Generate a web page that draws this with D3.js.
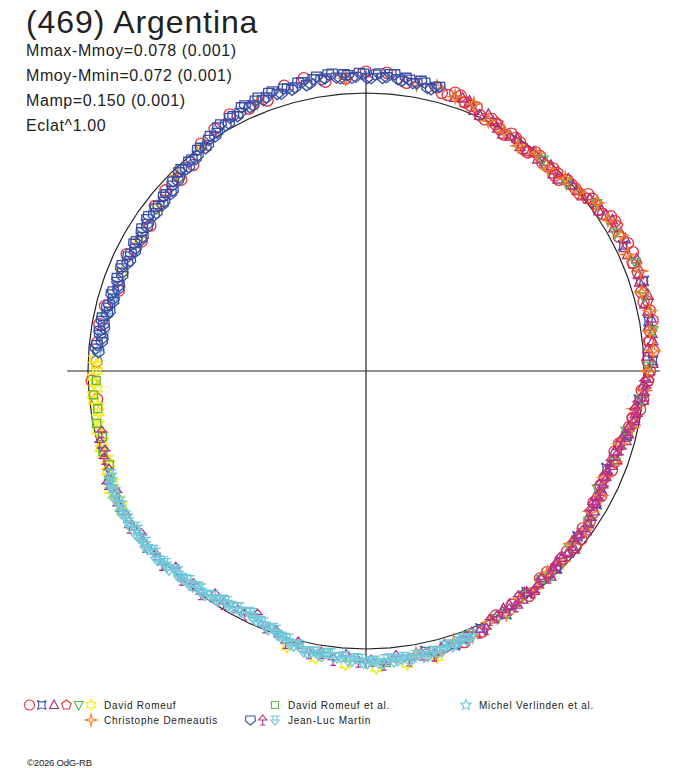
<!DOCTYPE html>
<html>
<head>
<meta charset="utf-8">
<script src="https://cdn.jsdelivr.net/npm/d3@7"></script>
<style>
  body { margin: 0; background: #fff; }
  svg { display: block; font-family: "Liberation Sans", Arial, sans-serif; }
</style>
</head>
<body>
<svg id="chart"></svg>
<script>
// ---- data: [rotation angle in degrees, magnitude relative to mean] ----
const title = "(469) Argentina";
const statLines = ["Mmax-Mmoy=0.078 (0.001)", "Mmoy-Mmin=0.072 (0.001)", "Mamp=0.150 (0.001)", "Eclat^1.00"];
const eclat = 1.00;

const romeuf1 = [[280,0.029],[288,0.073],[296,0.047],[304,0.072],[312,0.032],[320,0.036],[328,-0.029],[336,-0.036],
  [344,-0.071],[352,-0.054],[0,-0.080],[8,-0.050],[14,-0.055],[16.5,-0.038],[19,-0.050],[21.5,-0.028],[24,-0.008],
  [26.5,-0.014],[29,0.006],[31.5,-0.001],[34,0.009],[36.5,0.024],[39,0.006],[41.5,0.018],[44,0.025],[46.5,0.002],
  [49,0.001],[51.5,-0.023],[54,-0.025],[56.5,-0.024],[59,-0.048],[62,-0.032],[66,-0.054],[70,-0.043],[74,-0.032],
  [78,-0.047],[82,-0.034],[86,-0.039],[90,-0.023],[94,0.006],[98,0.005],[102,0.035],[106,0.059],[110,0.052],
  [114,0.067],[118,0.047],[122,0.042],[126,0.040],[130,0.017],[134,0.027],[138,0.029],
  [264,0.030],[268,0.014],[272,0.033],[276,0.030]];
const romeuf1b = [[284,0.036],[300,0.076],[308,0.040],[316,0.048],[324,-0.011],[332,-0.048],[340,-0.038],[348,-0.080],
  [356,-0.058],[4,-0.079],[15.25,-0.039],[17.75,-0.054],[20.25,-0.032],[22.75,-0.031],[25.25,-0.001],[27.75,-0.003],
  [30.25,0.017],[32.75,0.004],[35.25,0.023],[37.75,0.005],[40.25,0.020],[42.75,0.009],[45.25,0.025],[47.75,0.002],
  [50.25,0.002],[52.75,-0.025],[55.25,-0.018],[57.75,-0.045],[64,-0.051],[68,-0.040],[72,-0.047],[76,-0.031],
  [80,-0.050],[84,-0.028],[88,-0.015],[92,-0.016],[96,-0.002],[100,0.029],[104,0.038],[108,0.067],[112,0.051],
  [116,0.069],[120,0.061],[124,0.033],[128,0.019],[132,0.031],[136,0.019],[140,0.028],[144,0.001],[148,0.010],
  [152,0.004],[156,-0.028],[160,-0.040],[164,-0.034],[168,-0.046]];
const romeuf2 = [[64,-0.032],[72,-0.053],[80,-0.034],[88,-0.035],[96,0.014],[104,0.037],[112,0.075],[120,0.047],
  [128,0.038],[136,0.013],[144,0.017],[150,-0.011],[156,-0.015],[162,-0.039],[168,-0.032]];
const romeuf3 = [[18,-0.037],[21,-0.042],[24,-0.007],[27,-0.007],[30,0.018],[33,0.002],[36,0.016],[39,0.021],
  [42,0.006],[45,0.026],[48,0.000],[51,-0.001],[54,-0.032],[57,-0.031],[60,-0.031],[63,-0.050],[66,-0.032],
  [69,-0.049],[72,-0.037],[75,-0.054],[78,-0.039],[81,-0.031],[84,-0.040],[87,-0.013],[90,-0.022],[93,0.002],
  [96,-0.004],[99,0.021],[102,0.037],[105,0.035],[108,0.068],[111,0.058],[114,0.074],[117,0.052],[120,0.054],
  [123,0.048],[126,0.023],[129,0.040],[132,0.023],[135,0.031],[138,0.007],[141,0.016],[144,0.018],[147,0.000],[150,0.013]];
const romeuf3b = [[19.5,-0.044],[22.5,-0.016],[25.5,-0.024],[28.5,0.007],[31.5,0.010],[34.5,0.023],[37.5,0.008],
  [40.5,0.010],[43.5,0.025],[46.5,-0.003],[49.5,0.001],[52.5,-0.017],[55.5,-0.018],[58.5,-0.042],[61.5,-0.045],
  [64.5,-0.033],[67.5,-0.057],[70.5,-0.042],[73.5,-0.046],[76.5,-0.033],[79.5,-0.046],[82.5,-0.040],[85.5,-0.018],
  [88.5,-0.034],[91.5,-0.009],[94.5,-0.001],[97.5,0.023],[100.5,0.018],[103.5,0.032],[106.5,0.060],[109.5,0.047],
  [112.5,0.068],[115.5,0.063],[118.5,0.067],[121.5,0.040],[124.5,0.032],[127.5,0.040],[130.5,0.015],[133.5,0.029],
  [136.5,0.019],[139.5,0.026],[142.5,0.006],[145.5,0.005],[148.5,0.015]];
const romeuf4 = [[20,-0.031],[28,-0.010],[36,0.024],[44,0.008],[52,-0.009],[60,-0.047],[68,-0.035],[76,-0.046],
  [84,-0.023],[92,-0.018],[100,0.030]];
const romeuf5 = [[40,0.011],[47,0.015],[54,-0.027],[61,-0.027],[68,-0.047],[75,-0.037],[82,-0.045],[89,-0.017],
  [96,0.002],[103,0.044],[110,0.053],[117,0.074],[124,0.037],[131,0.033],[138,0.008],[145,0.016],[152,-0.009],[159,-0.021]];
const romeuf6 = [[240,-0.014],[242.5,-0.002],[245,-0.017],[247.5,0.003],[250,0.020],[252.5,0.008],[255,0.021],
  [257.5,0.010],[260,0.020],[262.5,0.031],[265,0.015],[267.5,0.026],[270,0.034],[272.5,0.024],
  [166,-0.064],[172,-0.067],[178,-0.072],[184,-0.061],[190,-0.051],[196,-0.034],
  [292,0.060],[300,0.062],[308,0.055],[316,0.034],[324,0.003]];
const romeuf6b = [[241.25,-0.002],[243.75,-0.014],[246.25,0.006],[248.75,0.001],[251.25,0.018],[253.75,0.006],
  [256.25,0.028],[258.75,0.019],[261.25,0.029],[263.75,0.016],[266.25,0.033],[268.75,0.019],[271.25,0.033]];
const romeufEtAl = [[244,-0.002],[247,-0.007],[250,0.019],[253,0.011],[256,0.025],[259,0.014],[262,0.028],[265,0.018],
  [268,0.032],[140,0.023],[150,-0.007],[160,-0.028],[176,-0.055],[188,-0.025]];
const verlinden = [[274,0.034],[278,0.050],[282,0.044],[286,0.062]];
const demeautis = [[10,-0.051],[14,-0.057],[18,-0.040],[22,-0.039],[26,-0.003],[30,0.008],[34,0.025],[38,0.008],
  [42,0.024],[46,0.004],[50,-0.002],[54,-0.032],[58,-0.028],[62,-0.042],[66,-0.032],[70,-0.054],[74,-0.034],
  [78,-0.046],[82,-0.033],[86,-0.038],[90,-0.013],[94,-0.004],[98,0.027],[102,0.024],[106,0.057],[110,0.053],
  [114,0.068],[118,0.048],[122,0.052],[126,0.030],[130,0.039],[134,0.016],[138,0.027],[142,0.009],[146,0.013],
  [150,-0.010],[154,-0.007],[158,-0.029],[162,-0.024],[166,-0.050],[170,-0.037],[316,0.026],[338,-0.045],[356,-0.058]];
const martinBlue = [[274,0.039],[275.5,0.031],[277,0.050],[278.5,0.034],[280,0.047],[281.5,0.036],[283,0.059],
  [284.5,0.051],[286,0.062],[287.5,0.052],[289,0.068],[290.5,0.050],[292,0.062],[293.5,0.049],[295,0.071],
  [296.5,0.062],[298,0.069],[299.5,0.057],[301,0.071],[302.5,0.050],[304,0.060],[305.5,0.045],[307,0.063],
  [308.5,0.052],[310,0.059],[311.5,0.045],[313,0.055],[314.5,0.030],[316,0.036],[317.5,0.017],[319,0.032],
  [320.5,0.016],[322,0.018],[323.5,0.001],[325,0.010],[326.5,-0.015],[328,-0.011],[329.5,-0.032],[331,-0.019],
  [332.5,-0.036],[334,-0.035],[335.5,-0.053],[337,-0.040],[338.5,-0.060],[340,-0.050],[341.5,-0.064],[343,-0.045],
  [344.5,-0.058],[346,-0.054],[347.5,-0.068],[349,-0.056],[350.5,-0.077],[352,-0.066],[353.5,-0.080],[355,-0.060],
  [356.5,-0.070],[358,-0.062],[359.5,-0.073],[1,-0.057],[2.5,-0.075],[4,-0.063],[5.5,-0.076],[7,-0.054],
  [8.5,-0.063],[10,-0.054],[11.5,-0.062],[13,-0.043],[14.5,-0.059]];
const martinBlue2 = [[274.75,0.027],[276.25,0.049],[277.75,0.038],[279.25,0.050],[280.75,0.036],[282.25,0.053],
  [283.75,0.046],[285.25,0.064],[286.75,0.049],[288.25,0.069],[289.75,0.056],[291.25,0.066],[292.75,0.050],
  [294.25,0.066],[295.75,0.057],[297.25,0.073],[298.75,0.054],[300.25,0.072],[301.75,0.057],[303.25,0.065],
  [304.75,0.046],[306.25,0.060],[307.75,0.049],[309.25,0.062],[310.75,0.044],[312.25,0.058],[313.75,0.039],
  [315.25,0.042],[316.75,0.020],[318.25,0.030],[319.75,0.015],[321.25,0.024],[322.75,0.001],[324.25,0.014],
  [325.75,-0.006],[327.25,-0.003],[328.75,-0.027],[330.25,-0.019],[331.75,-0.036],[333.25,-0.028],[334.75,-0.052],
  [336.25,-0.039],[337.75,-0.054],[339.25,-0.045],[340.75,-0.063],[342.25,-0.049],[343.75,-0.061],[345.25,-0.049],
  [346.75,-0.069],[348.25,-0.053],[349.75,-0.070],[351.25,-0.062],[352.75,-0.079],[354.25,-0.064],[355.75,-0.074],
  [357.25,-0.059],[358.75,-0.076],[0.25,-0.057],[1.75,-0.070],[3.25,-0.059],[4.75,-0.075],[6.25,-0.059],
  [7.75,-0.068],[9.25,-0.052],[10.75,-0.066],[12.25,-0.044],[13.75,-0.055]];
const martinMagenta = [[92,-0.003],[95,-0.007],[98,0.027],[101,0.024],[104,0.042],[107,0.044],[110,0.069],[113,0.063],
  [116,0.073],[119,0.047],[122,0.058],[125,0.031],[128,0.030],[131,0.019],[134,0.034],[137,0.019],[140,0.024],
  [143,0.003],[146,0.023],[149,-0.001],[152,-0.002],[155,-0.026],[158,-0.017],[161,-0.034],
  [164,-0.027],[166.5,-0.055],[169,-0.041],[171.5,-0.055],[174,-0.034],[176.5,-0.061],[179,-0.045],[181.5,-0.048],
  [184,-0.027],[186.5,-0.048],[189,-0.028],[191.5,-0.037],[194,-0.008],[196.5,-0.021],[199,0.009],[201.5,0.010],
  [204,0.045],[206.5,0.023],[209,0.032],[211.5,0.020],[214,0.033],[216.5,0.002],[219,0.014],[221.5,-0.002],
  [224,0.016],[226.5,-0.013],[229,-0.004],[231.5,-0.016],[234,0.002],[236.5,-0.022],[239,-0.008],[241.5,-0.017],
  [244,0.004],[246.5,-0.018],[249,0.010],[251.5,0.007],[253,0.020],[255,0.009],[257,0.027]];
const martinMagenta2 = [[93.5,-0.010],[96.5,0.018],[99.5,0.011],[102.5,0.037],[105.5,0.057],[108.5,0.053],
  [111.5,0.068],[114.5,0.057],[117.5,0.056],[120.5,0.061],[123.5,0.030],[126.5,0.034],[129.5,0.039],[132.5,0.022],
  [135.5,0.028],[138.5,0.009],[141.5,0.009],[144.5,0.021],[147.5,-0.003],[150.5,0.003],[153.5,0.000],[156.5,-0.027],
  [159.5,-0.024]];
const martinCyan = [[158,-0.021],[159.5,-0.037],[161,-0.031],[162.5,-0.041],[164,-0.031],[165.5,-0.046],[167,-0.042],
  [168.5,-0.052],[170,-0.040],[171.5,-0.054],[173,-0.046],[174.5,-0.053],[176,-0.042],[177.5,-0.054],[179,-0.047],
  [180.5,-0.052],[182,-0.036],[183.5,-0.046],[185,-0.035],[186.5,-0.039],[188,-0.026],[189.5,-0.037],[191,-0.030],
  [192.5,-0.036],[194,-0.016],[195.5,-0.021],[197,-0.004],[198.5,-0.002],[200,0.018],[201.5,0.013],[203,0.026],
  [204.5,0.025],[206,0.040],[207.5,0.025],[209,0.032],[210.5,0.024],[212,0.033],[213.5,0.017],[215,0.018],
  [216.5,0.007],[218,0.018],[219.5,0.002],[221,0.009],[222.5,0.000],[224,0.010],[225.5,-0.006],[227,-0.003],
  [228.5,-0.013],[230,-0.002],[231.5,-0.017],[233,-0.010],[234.5,-0.016],[236,-0.003],[237.5,-0.016],[239,-0.010],
  [240.5,-0.018],[242,-0.003],[243.5,-0.016],[245,-0.006],[246.5,-0.007],[248,0.011]];
const martinCyan2 = [[158.75,-0.033],[160.25,-0.025],[161.75,-0.037],[163.25,-0.029],[164.75,-0.047],[166.25,-0.039],
  [167.75,-0.052],[169.25,-0.040],[170.75,-0.051],[172.25,-0.040],[173.75,-0.050],[175.25,-0.040],[176.75,-0.057],
  [178.25,-0.045],[179.75,-0.055],[181.25,-0.038],[182.75,-0.046],[184.25,-0.031],[185.75,-0.038],[187.25,-0.025],
  [188.75,-0.039],[190.25,-0.028],[191.75,-0.038],[193.25,-0.021],[194.75,-0.023],[196.25,-0.003],[197.75,-0.004],
  [199.25,0.015],[200.75,0.007],[202.25,0.025],[203.75,0.021],[205.25,0.041],[206.75,0.028],[208.25,0.038],
  [209.75,0.027],[211.25,0.035],[212.75,0.016],[214.25,0.023],[215.75,0.008],[217.25,0.019],[218.75,0.006],
  [220.25,0.015],[221.75,0.003],[223.25,0.012],[224.75,-0.007],[226.25,0.001],[227.75,-0.013],[229.25,-0.001],
  [230.75,-0.014],[232.25,-0.004],[233.75,-0.014],[235.25,-0.002],[236.75,-0.018],[238.25,-0.008],[239.75,-0.019],
  [241.25,-0.005],[242.75,-0.014],[244.25,-0.002],[245.75,-0.007],[247.25,0.009]];

// observers as in the legend, sessions drawn in this order
const observers = ["David Romeuf", "David Romeuf et al.", "Michel Verlinden et al.", "Christophe Demeautis", "Jean-Luc Martin"];
const sessions = [
  { obs: 0, data: romeuf1.concat(romeuf1b), sym: "circle", color: "#e8323c" },
  { obs: 0, data: romeuf2, sym: "concave", color: "#3a52ac" },
  { obs: 0, data: romeuf3.concat(romeuf3b), sym: "triUp", color: "#a8307c" },
  { obs: 0, data: romeuf4, sym: "pentagon", color: "#e8323c" },
  { obs: 0, data: romeuf5, sym: "triDown", color: "#5cb848" },
  { obs: 0, data: romeuf6.concat(romeuf6b), sym: "star6", color: "#f2ea1c" },
  { obs: 1, data: romeufEtAl, sym: "square", color: "#5cb848" },
  { obs: 2, data: verlinden, sym: "star5", color: "#70c8dc" },
  { obs: 3, data: demeautis, sym: "star4", color: "#f07c28" },
  { obs: 4, data: martinBlue.concat(martinBlue2), sym: "shield", color: "#3a4ea6" },
  { obs: 4, data: martinMagenta.concat(martinMagenta2), sym: "treeUp", color: "#b8308a" },
  { obs: 4, data: martinCyan.concat(martinCyan2), sym: "treeDown", color: "#70c8da" }
];

// ---- symbols ----
function starPath(n, ro, ri, rot) {
  const pts = [];
  for (let i = 0; i < 2 * n; i++) {
    const a = rot + i * Math.PI / n, r = i % 2 ? ri : ro;
    pts.push([r * Math.sin(a), -r * Math.cos(a)]);
  }
  return "M" + pts.map(p => p[0].toFixed(2) + "," + p[1].toFixed(2)).join("L") + "Z";
}
function polyPath(n, r, rot) {
  const pts = d3.range(n).map(i => [r * Math.sin(rot + i * 2 * Math.PI / n), -r * Math.cos(rot + i * 2 * Math.PI / n)]);
  return "M" + pts.map(p => p[0].toFixed(2) + "," + p[1].toFixed(2)).join("L") + "Z";
}
const symbols = {
  circle: "M5,0A5,5 0 1,1 -5,0A5,5 0 1,1 5,0Z",
  concave: "M-4.5,-4.5Q0,-1.5 4.5,-4.5Q1.5,0 4.5,4.5Q0,1.5 -4.5,4.5Q-1.5,0 -4.5,-4.5Z",
  triUp: "M0,-5L4.5,3.5L-4.5,3.5Z",
  pentagon: polyPath(5, 5, 0),
  triDown: "M-4.5,-3.5L4.5,-3.5L0,5Z",
  star6: starPath(6, 5.5, 3, 0),
  square: "M-3.5,-3.5H3.5V3.5H-3.5Z",
  star5: starPath(5, 5.5, 2.6, 0),
  star4: starPath(4, 6, 1.8, 0),
  shield: "M-4.5,-4L4.5,-4L5,1L0,5L-5,1Z",
  treeUp: "M0,-5L-4,0L4,0Z M-5,0L5,0 M0,0L0,5 M-2.5,5L2.5,5",
  treeDown: "M-5,-4L5,-4 M-2,-4L-2,0 M2,-4L2,0 M-4,0L4,0L0,5Z"
};

// ---- layout ----
const W = 688, H = 768;
const cx = 366, cy = 371;
const svg = d3.select("#chart").attr("width", W).attr("height", H);

const angle = d3.scaleLinear().domain([0, 360]).range([0, 2 * Math.PI]);
const radius = d3.scaleLinear().domain([0, 1]).range([0, 278]);
const rOf = dm => radius(Math.pow(Math.pow(10, -0.4 * dm), eclat));

const plot = svg.append("g").attr("transform", `translate(${cx},${cy})`);

// reference circle (mean magnitude)
plot.append("path")
  .datum(d3.range(0, 360, 5))
  .attr("d", d3.lineRadial().angle(d => angle(d)).radius(() => radius(1)).curve(d3.curveLinearClosed))
  .attr("fill", "none").attr("stroke", "#222").attr("stroke-width", 1.2);

// cross hair
const armL = radius(1.075), armR = radius(1.057), armT = radius(1.08), armB = radius(1.07);
plot.append("line").attr("x1", -armL).attr("x2", armR).attr("y1", 0).attr("y2", 0)
  .attr("stroke", "#222").attr("stroke-width", 1.2);
plot.append("line").attr("x1", 0).attr("x2", 0).attr("y1", -armT).attr("y2", armB)
  .attr("stroke", "#222").attr("stroke-width", 1.2);

// observation points
sessions.forEach(s => {
  plot.append("g").selectAll("path")
    .data(s.data)
    .enter().append("path")
    .attr("d", symbols[s.sym])
    .attr("transform", d => {
      const a = angle(d[0]), r = rOf(d[1]);
      return `translate(${(r * Math.sin(a)).toFixed(2)},${(-r * Math.cos(a)).toFixed(2)}) scale(1.12)`;
    })
    .attr("fill", "none")
    .attr("stroke", s.color)
    .attr("stroke-width", 1.2);
});

// ---- texts ----
svg.append("text").attr("x", 26).attr("y", 33).text(title)
  .attr("font-size", 32).attr("letter-spacing", 0.9).attr("fill", "#222");
statLines.forEach((t, i) => {
  svg.append("text").attr("x", 26).attr("y", 56 + i * 25).text(t)
    .attr("font-size", 16).attr("letter-spacing", 0.6).attr("fill", "#222");
});

// ---- legend ----
const legendCols = [104, 288, 479];
const legendRows = [705, 720];
const legendSlots = [[0, 0], [1, 0], [2, 0], [0, 1], [1, 1]];
observers.forEach((name, i) => {
  const tx = legendCols[legendSlots[i][0]], ty = legendRows[legendSlots[i][1]];
  const own = sessions.filter(s => s.obs === i);
  own.forEach((s, j) => {
    const mx = tx - 13 - (own.length - 1 - j) * 12.3;
    svg.append("path").attr("d", symbols[s.sym])
      .attr("transform", `translate(${mx},${ty})`)
      .attr("fill", "none").attr("stroke", s.color).attr("stroke-width", 1.1);
  });
  svg.append("text").attr("x", tx).attr("y", ty + 4).text(name)
    .attr("font-size", 10).attr("letter-spacing", 0.75).attr("fill", "#222");
});

svg.append("text").attr("x", 27).attr("y", 766).text("©2026 OdG-RB")
  .attr("font-size", 9.5).attr("letter-spacing", -0.2).attr("fill", "#222");
</script>
</body>
</html>
